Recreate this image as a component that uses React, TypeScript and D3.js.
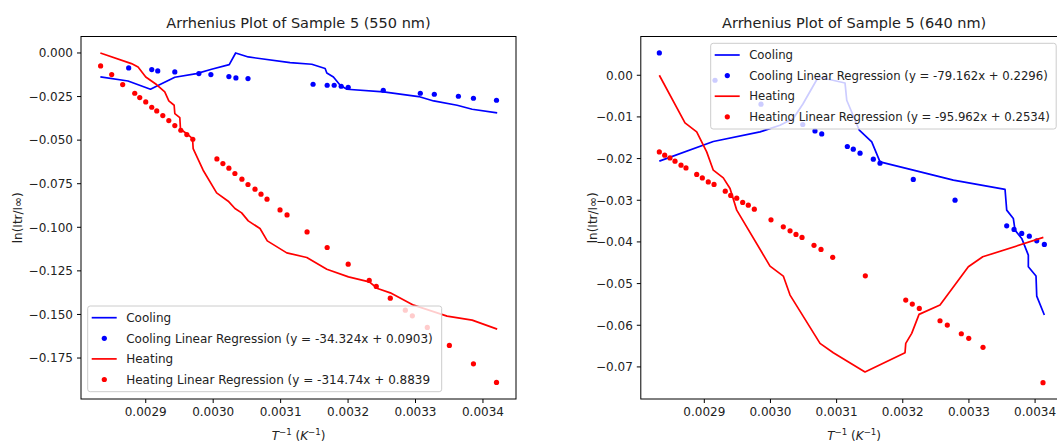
import React from "react";
import * as d3 from "d3";

// ---------- DATA ----------
const xTicks = [0.0029, 0.003, 0.0031, 0.0032, 0.0033, 0.0034];
const leftYTicks = [0, -0.025, -0.05, -0.075, -0.1, -0.125, -0.15, -0.175];
const rightYTicks = [0, -0.01, -0.02, -0.03, -0.04, -0.05, -0.06, -0.07];

const leftTitle = "Arrhenius Plot of Sample 5 (550 nm)";
const rightTitle = "Arrhenius Plot of Sample 5 (640 nm)";
const leftLabels = [
  "Cooling",
  "Cooling Linear Regression (y = -34.324x + 0.0903)",
  "Heating",
  "Heating Linear Regression (y = -314.74x + 0.8839",
];
const rightLabels = [
  "Cooling",
  "Cooling Linear Regression (y = -79.162x + 0.2296)",
  "Heating",
  "Heating Linear Regression (y = -95.962x + 0.2534)",
];

// 550 nm
const leftCoolLine: [number, number][] = [
  [0.0028327, -0.01376], [0.0028737, -0.01606], [0.002907, -0.02081], [0.0029159, -0.01909],
  [0.0029431, -0.01393], [0.0029753, -0.01181], [0.0029976, -0.00935], [0.0030238, -0.00665],
  [0.0030333, 0.0], [0.003052, -0.00229], [0.003114, -0.0055], [0.0031462, -0.00648],
  [0.003166, -0.00894], [0.0031685, -0.01147], [0.0031783, -0.01376], [0.0031883, -0.01852],
  [0.0031982, -0.02081], [0.0032526, -0.02236], [0.0033046, -0.025], [0.0033269, -0.02752],
  [0.0033617, -0.02999], [0.003384, -0.03228], [0.0034211, -0.0344],
];
const leftCoolDots: [number, number][] = [
  [0.0028747, -0.0086], [0.0029089, -0.00952], [0.0029178, -0.01032], [0.0029431, -0.01089],
  [0.0029788, -0.01181], [0.0029966, -0.01239], [0.0030233, -0.01353], [0.0030337, -0.01433],
  [0.0030516, -0.01468], [0.0031481, -0.01795], [0.003169, -0.01852], [0.0031794, -0.01852],
  [0.0031898, -0.01909], [0.0032002, -0.01967], [0.0032522, -0.02139], [0.0033071, -0.02311],
  [0.0033279, -0.02368], [0.0033636, -0.02483], [0.0033859, -0.02597], [0.0034201, -0.02712],
];
const leftHeatLine: [number, number][] = [
  [0.0028327, 0.0], [0.0028788, -0.00608], [0.0028886, -0.00803], [0.0029, -0.01376],
  [0.0029159, -0.01812], [0.0029282, -0.02236], [0.0029342, -0.02752], [0.0029421, -0.02999],
  [0.0029431, -0.03475], [0.0029505, -0.03704], [0.0029515, -0.04375], [0.0029594, -0.04587],
  [0.0029694, -0.04908], [0.0029703, -0.05482], [0.0029851, -0.06726], [0.0030051, -0.08028],
  [0.0030223, -0.08503], [0.0030323, -0.08922], [0.0030422, -0.09174], [0.003052, -0.09633],
  [0.0030694, -0.10069], [0.0030802, -0.1078], [0.0031091, -0.11468], [0.0031388, -0.11732],
  [0.0031685, -0.12403], [0.0032006, -0.12844], [0.0032314, -0.13131], [0.0032437, -0.13509],
  [0.0032626, -0.13761], [0.0032972, -0.14467], [0.0033468, -0.15097], [0.003384, -0.15327],
  [0.0034211, -0.15843],
];
const leftHeatDots: [number, number][] = [
  [0.0028331, -0.00745], [0.0028495, -0.01239], [0.0028658, -0.01812], [0.0028837, -0.02311],
  [0.0028911, -0.02557], [0.0029, -0.0281], [0.0029089, -0.03114], [0.0029163, -0.03326],
  [0.0029253, -0.03589], [0.0029342, -0.03876], [0.0029431, -0.04163], [0.002952, -0.04432],
  [0.0029609, -0.04679], [0.0029698, -0.04948], [0.0030055, -0.06078], [0.0030144, -0.06342],
  [0.0030233, -0.06611], [0.0030322, -0.06915], [0.0030426, -0.07242], [0.0030516, -0.07546],
  [0.003062, -0.07815], [0.0030709, -0.08102], [0.0030798, -0.08389], [0.0030991, -0.09002],
  [0.0031095, -0.09289], [0.0031392, -0.10264], [0.003169, -0.11158], [0.0032002, -0.12116],
  [0.0032314, -0.1305], [0.0032418, -0.13394], [0.0032626, -0.14065], [0.0032849, -0.14753],
  [0.0032953, -0.1508], [0.0033175, -0.15745], [0.0033502, -0.16778], [0.0033859, -0.17833],
  [0.0034201, -0.18899],
];

// 640 nm
const rightCoolLine: [number, number][] = [
  [0.002832, -0.02062], [0.0029136, -0.0159], [0.0029842, -0.0136], [0.0030144, -0.01199],
  [0.0030345, -0.01038], [0.0030488, -0.00695], [0.0030723, -0.00041], [0.0031127, -0.00185],
  [0.0031153, -0.006], [0.0031343, -0.01319], [0.0031531, -0.016], [0.0031656, -0.02079],
  [0.0032159, -0.02278], [0.0032764, -0.02518], [0.0033546, -0.02741], [0.0033571, -0.03237],
  [0.0033671, -0.03436], [0.0033697, -0.03717], [0.0033798, -0.03916], [0.0033898, -0.04317],
  [0.0033898, -0.04597], [0.0034014, -0.0482], [0.0034025, -0.053], [0.003414, -0.05755],
];
const rightCoolDots: [number, number][] = [
  [0.002832, 0.00535], [0.0029162, -0.0012], [0.0029857, -0.00695], [0.0030488, -0.01182],
  [0.0030673, -0.01336], [0.0030775, -0.01408], [0.0031162, -0.0171], [0.0031252, -0.01775],
  [0.0031354, -0.01871], [0.0031555, -0.02014], [0.0031656, -0.0211], [0.0032159, -0.02501],
  [0.003279, -0.02998], [0.0033571, -0.03614], [0.0033682, -0.037], [0.0033798, -0.03796],
  [0.0033913, -0.03861], [0.0034025, -0.03974], [0.003414, -0.0406],
];
const rightHeatLine: [number, number][] = [
  [0.002832, 0.0], [0.0028708, -0.01144], [0.0028885, -0.0136], [0.0029036, -0.01839],
  [0.0029136, -0.02278], [0.0029287, -0.02463], [0.0029389, -0.02717], [0.002949, -0.03237],
  [0.0029993, -0.0458], [0.0030194, -0.0482], [0.0030296, -0.05276], [0.0030749, -0.06434],
  [0.003095, -0.06659], [0.0031429, -0.07122], [0.0032034, -0.06659], [0.0032045, -0.06434],
  [0.0032135, -0.06194], [0.0032246, -0.05739], [0.0032563, -0.05516], [0.0032991, -0.04597],
  [0.0033209, -0.04357], [0.0034125, -0.03892],
];
const rightHeatDots: [number, number][] = [
  [0.002832, -0.01839], [0.0028401, -0.01918], [0.0028481, -0.01983], [0.0028557, -0.02062],
  [0.0028648, -0.02158], [0.0028723, -0.02223], [0.0028885, -0.02381], [0.002897, -0.02463],
  [0.002906, -0.02559], [0.0029147, -0.02621], [0.0029317, -0.02782], [0.0029399, -0.02885],
  [0.002949, -0.0295], [0.002958, -0.03053], [0.0029665, -0.03118], [0.0029756, -0.03213],
  [0.0030008, -0.0347], [0.0030194, -0.03638], [0.0030296, -0.03734], [0.0030386, -0.0382],
  [0.0030477, -0.03892], [0.0030658, -0.04082], [0.0030764, -0.0418], [0.0030941, -0.04369],
  [0.0031434, -0.04813], [0.0032045, -0.05396], [0.0032144, -0.05492], [0.003225, -0.05595],
  [0.0032563, -0.05892], [0.0032673, -0.05995], [0.0032885, -0.06204], [0.0032997, -0.06314],
  [0.0033213, -0.0653], [0.003412, -0.07379],
];

// ---------- STYLE ----------
const FONT = "'DejaVu Sans', sans-serif";
const BLUE = "#0000ff";
const RED = "#ff0000";
const TICK_FS = 12;
const TITLE_FS = 14.5;

type Pt = [number, number];

interface PanelProps {
  left: number;
  right: number;
  top: number;
  bottom: number;
  xDomain: [number, number];
  yDomain: [number, number];
  yTicks: number[];
  yDigits: number;
  title: string;
  coolLine: Pt[];
  coolDots: Pt[];
  heatLine: Pt[];
  heatDots: Pt[];
  labels: string[];
  legend: { x: number; y: number; w: number; h: number; fs: number };
  yLabelX: number;
}

const fmt = (v: number, d: number) => v.toFixed(d).replace("-", "\u2212");

function Panel(p: PanelProps) {
  const x = d3.scaleLinear().domain(p.xDomain).range([p.left, p.right]);
  const y = d3.scaleLinear().domain(p.yDomain).range([p.bottom, p.top]);
  const line = d3
    .line<Pt>()
    .x((d) => x(d[0]))
    .y((d) => y(d[1]));
  const cx = (p.left + p.right) / 2;
  const cy = (p.top + p.bottom) / 2;
  const clipId = "clip" + Math.round(p.left);
  const lg = p.legend;
  const rowH = 20.6;
  return (
    <g>
      <defs>
        <clipPath id={clipId}>
          <rect x={p.left} y={p.top} width={p.right - p.left} height={p.bottom - p.top} />
        </clipPath>
      </defs>
      <g clipPath={`url(#${clipId})`}>
        <path d={line(p.coolLine) || ""} fill="none" stroke={BLUE} strokeWidth={1.7} strokeLinejoin="round" />
        {p.coolDots.map((d, i) => (
          <circle key={"cd" + i} cx={x(d[0])} cy={y(d[1])} r={2.6} fill={BLUE} />
        ))}
        <path d={line(p.heatLine) || ""} fill="none" stroke={RED} strokeWidth={1.7} strokeLinejoin="round" />
        {p.heatDots.map((d, i) => (
          <circle key={"hd" + i} cx={x(d[0])} cy={y(d[1])} r={2.6} fill={RED} />
        ))}
      </g>
      {/* frame */}
      <rect x={p.left} y={p.top} width={p.right - p.left} height={p.bottom - p.top} fill="none" stroke="#000" strokeWidth={1} />
      {/* x ticks */}
      {xTicks.map((t) => (
        <g key={"xt" + t}>
          <line x1={x(t)} x2={x(t)} y1={p.bottom} y2={p.bottom + 4} stroke="#000" strokeWidth={1} />
          <text x={x(t)} y={p.bottom + 17} textAnchor="middle" fontSize={TICK_FS} fontFamily={FONT} fill="#222">
            {t.toFixed(4)}
          </text>
        </g>
      ))}
      {/* y ticks */}
      {p.yTicks.map((t) => (
        <g key={"yt" + t}>
          <line x1={p.left - 4} x2={p.left} y1={y(t)} y2={y(t)} stroke="#000" strokeWidth={1} />
          <text x={p.left - 8} y={y(t)} dy="0.36em" textAnchor="end" fontSize={TICK_FS} fontFamily={FONT} fill="#222">
            {fmt(t, p.yDigits)}
          </text>
        </g>
      ))}
      {/* title */}
      <text x={cx} y={28} textAnchor="middle" fontSize={TITLE_FS} fontFamily={FONT} fill="#222">
        {p.title}
      </text>
      {/* x label */}
      <text x={cx} y={440} textAnchor="middle" fontSize={TICK_FS} fontFamily={FONT} fill="#222">
        <tspan fontStyle="italic">T</tspan>
        <tspan dy={-5} fontSize={8.6}>{"\u22121"}</tspan>
        <tspan dy={5}>{" ("}</tspan>
        <tspan fontStyle="italic">K</tspan>
        <tspan dy={-5} fontSize={8.6}>{"\u22121"}</tspan>
        <tspan dy={5}>{")"}</tspan>
      </text>
      {/* y label */}
      <text
        transform={`translate(${p.yLabelX},${cy}) rotate(-90)`}
        textAnchor="middle"
        fontSize={TICK_FS}
        fontFamily={FONT}
        fill="#222"
      >
        {"ln(Itr/I\u221E)"}
      </text>
      {/* legend */}
      <rect x={lg.x} y={lg.y} width={lg.w} height={lg.h} rx={2.5} fill="#fff" fillOpacity={0.8} stroke="#cccccc" strokeWidth={1} />
      {p.labels.map((lab, i) => {
        const ry = lg.y + 11.7 + i * rowH;
        const isLine = i % 2 === 0;
        const col = i < 2 ? BLUE : RED;
        return (
          <g key={"lg" + i}>
            {isLine ? (
              <line x1={lg.x + 4} x2={lg.x + 29} y1={ry} y2={ry} stroke={col} strokeWidth={1.7} />
            ) : (
              <circle cx={lg.x + 16.6} cy={ry} r={2.6} fill={col} />
            )}
            <text x={lg.x + 38.5} y={ry} dy="0.36em" fontSize={lg.fs} fontFamily={FONT} fill="#222">
              {lab}
            </text>
          </g>
        );
      })}
    </g>
  );
}

export default function App() {
  const xDomain: [number, number] = [0.002804, 0.003449];
  return (
    <svg
      width={1057}
      height={444}
      style={{ position: "absolute", left: 0, top: 0, background: "#fff" }}
    >
      <rect x={0} y={0} width={1057} height={444} fill="#fff" />
      <Panel
        left={81}
        right={516}
        top={36.5}
        bottom={399}
        xDomain={xDomain}
        yDomain={[-0.1985, 0.00945]}
        yTicks={leftYTicks}
        yDigits={3}
        title={leftTitle}
        coolLine={leftCoolLine}
        coolDots={leftCoolDots}
        heatLine={leftHeatLine}
        heatDots={leftHeatDots}
        labels={leftLabels}
        legend={{ x: 87.7, y: 306, w: 354, h: 85.7, fs: 12 }}
        yLabelX={22}
      />
      <Panel
        left={640.8}
        right={1067.5}
        top={36.5}
        bottom={399}
        xDomain={xDomain}
        yDomain={[-0.0777, 0.0093]}
        yTicks={rightYTicks}
        yDigits={2}
        title={rightTitle}
        coolLine={rightCoolLine}
        coolDots={rightCoolDots}
        heatLine={rightHeatLine}
        heatDots={rightHeatDots}
        labels={rightLabels}
        legend={{ x: 710.7, y: 43.3, w: 345.5, h: 85.7, fs: 11.7 }}
        yLabelX={597}
      />
    </svg>
  );
}
